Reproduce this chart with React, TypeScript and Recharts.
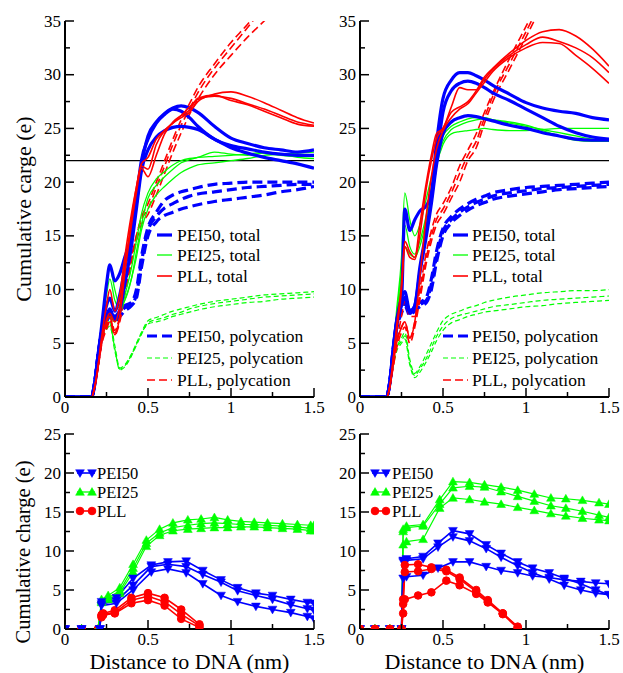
import React from "react";
import { LineChart, Line, XAxis, YAxis, ReferenceLine } from "recharts";

const BLUE = "#0000ff";
const GREEN = "#00ff00";
const RED = "#ff0000";
const FONT = "Liberation Serif, Times New Roman, Liberation Sans, Arial, sans-serif";

const xTicks = [0, 0.25, 0.5, 0.75, 1, 1.25, 1.5];
const yTicksTop = [0, 2.5, 5, 7.5, 10, 12.5, 15, 17.5, 20, 22.5, 25, 27.5, 30, 32.5, 35];
const yTicksBottom = [0, 2.5, 5, 7.5, 10, 12.5, 15, 17.5, 20, 22.5, 25];

// distance grid (nm) of the top panels
const xTop = [0, 0.16, 0.18, 0.2, 0.22, 0.25, 0.27, 0.3, 0.33, 0.36, 0.4, 0.43, 0.46, 0.5, 0.55, 0.6, 0.65, 0.7, 0.75, 0.8, 0.9, 1.0, 1.1, 1.2, 1.3, 1.4, 1.5];

// top left
const tlPei50Total = [
  [0, 0, 1.5, 4, 6.5, 10.5, 12.3, 10.8, 11.5, 13, 15, 18, 21.5, 24.3, 25.6, 26.4, 26.9, 27.1, 26.9, 26.5, 25.2, 24.1, 23.6, 23.2, 23.0, 22.8, 23.0],
  [0, 0, 1.5, 4, 6, 8.5, 9.2, 8, 9.5, 12, 15, 18.5, 22, 24, 25.5, 26.3, 26.8, 26.6, 26, 25.2, 24, 23.4, 23.1, 22.8, 22.6, 22.5, 22.5],
  [0, 0, 1.2, 3.5, 5.5, 7.5, 8.2, 7.2, 8, 10.5, 14, 17.5, 21, 23, 24.2, 24.8, 25.1, 25.2, 25.1, 24.9, 24, 23.2, 22.7, 22.3, 22, 21.7, 21.3],
];
const tlPei50Poly = [
  [0, 0, 1.5, 4, 6, 7.5, 8, 7.5, 8, 8.5, 8.8, 10, 13, 15.8, 17.2, 18.3, 18.8, 19.1, 19.3, 19.5, 19.8, 19.9, 20, 20, 20, 20, 20],
  [0, 0, 1.5, 4, 6, 7.3, 7.8, 7.2, 7.8, 8.3, 8.6, 9.5, 12.5, 15.5, 16.8, 17.6, 18, 18.4, 18.7, 18.9, 19.1, 19.3, 19.5, 19.6, 19.7, 19.8, 19.8],
  [0, 0, 1.3, 3.8, 5.8, 7, 7.5, 7, 7.5, 8, 8.5, 9.2, 12, 15, 16.3, 16.9, 17.2, 17.5, 17.7, 17.9, 18.2, 18.4, 18.6, 18.8, 19.1, 19.3, 19.6],
];
const tlPei25Total = [
  [0, 0, 1.5, 4, 6.5, 10.5, 12, 10, 8.5, 9, 11, 13.5, 16, 18.5, 19.7, 20.5, 21.2, 21.8, 22.1, 22.3, 22.8, 22.6, 22.5, 22.7, 22.5, 22.4, 22.5],
  [0, 0, 1.5, 4, 6.5, 9.5, 11, 9, 8.3, 9.5, 12, 14.5, 17, 19, 20.3, 21, 21.6, 22, 22.2, 22.3, 22.4, 22.5, 22.6, 22.8, 22.6, 22.3, 22.2],
  [0, 0, 1.2, 3.5, 5.5, 7, 7.5, 7, 7.8, 9, 11, 13, 15.5, 17.5, 18.8, 19.6, 20.3, 20.9, 21.3, 21.6, 21.8, 22, 22.2, 22.5, 22.6, 22.7, 22.8],
];
const tlPei25Poly = [
  [0, 0, 1.2, 3.5, 5.5, 6.8, 7, 4.8, 2.7, 3, 4, 5, 6, 7.1, 7.4, 7.7, 8, 8.2, 8.4, 8.6, 8.9, 9.1, 9.3, 9.5, 9.6, 9.7, 9.8],
  [0, 0, 1.2, 3.5, 5.5, 6.5, 6.8, 4.5, 2.5, 2.8, 3.8, 4.8, 5.8, 6.9, 7.2, 7.4, 7.7, 7.9, 8.2, 8.4, 8.7, 8.9, 9.1, 9.3, 9.4, 9.5, 9.6],
  [0, 0, 1, 3.2, 5.2, 6.3, 6.6, 4.3, 2.6, 2.9, 3.9, 4.9, 5.9, 6.8, 7, 7.2, 7.5, 7.7, 7.9, 8.1, 8.4, 8.6, 8.8, 8.9, 9.1, 9.2, 9.3],
];
const tlPllTotal = [
  [0, 0, 1, 3, 5.5, 8.5, 10, 8, 9.5, 13, 17, 19.5, 21.5, 21.2, 23.5, 24.8, 25.5, 26, 26.5, 27.5, 28.2, 28.4, 28, 27.4, 26.7, 26, 25.5],
  [0, 0, 1, 3, 5, 7, 7.5, 5.8, 7.5, 11.5, 16, 19, 21.3, 20.5, 22.5, 24.5, 25.6, 26.2, 26.7, 27.8, 28.1, 27.6, 27.2, 26.6, 26, 25.4, 25.2],
  [0, 0, 1, 2.8, 5, 7.2, 7.8, 7, 8.5, 12, 16.5, 19.5, 21.7, 22.3, 24, 24.8, 25.5, 26.2, 27, 27.7, 28, 27.8, 27.3, 26.8, 26.2, 25.6, 25.3],
];
const tlPllPoly = [
  [0, 0, 1, 3, 5, 6.8, 7.5, 6.2, 7.5, 10, 13, 15, 16.5, 17.5, 19.5, 21.5, 23.5, 25.3, 26.8, 28.3, 30.6, 32.5, 34.4, 36.3, 38, 39.5, 41],
  [0, 0, 1, 3, 5, 6.5, 7.2, 6, 7.3, 9.8, 12.8, 15, 16.7, 18, 20, 22, 24, 25.8, 27.3, 28.8, 31, 33, 34.7, 36.6, 38.3, 40, 41.5],
  [0, 0, 1, 2.8, 4.8, 6.3, 7, 5.8, 7, 9.5, 12.5, 14.5, 16, 17, 18.8, 20.8, 22.8, 24.6, 26.3, 27.7, 30, 31.8, 33.5, 35, 36.5, 38, 39.5],
];

// top right
const trPei50Total = [
  [0, 0, 1.5, 4.5, 7, 9, 17.5, 15.5, 16.5, 17.3, 17.8, 19, 23.5, 27.8, 29.5, 30.2, 30.2, 29.9, 29.5, 29, 28.2, 27.4, 26.9, 26.6, 26.4, 26, 25.8],
  [0, 0, 1.5, 4.5, 7, 9.2, 9.8, 8, 8.5, 12, 15.5, 18.5, 22, 26.5, 28.5, 29.2, 29.4, 29.2, 28.8, 28.3, 27.6, 26.8, 26, 25.2, 24.6, 24.2, 24],
  [0, 0, 1.3, 4, 6.5, 8.5, 9.3, 7.8, 8.5, 11.5, 15, 18, 21.5, 24.5, 25.6, 26, 26.2, 26.1, 25.9, 25.7, 25.3, 25, 24.6, 24.3, 24, 23.9, 23.9],
];
const trPei50Poly = [
  [0, 0, 1.5, 4.5, 6.8, 8.3, 9.2, 8, 8.5, 8.8, 9.3, 11, 13.5, 15.7, 16.8, 17.5, 18, 18.4, 18.7, 19, 19.3, 19.5, 19.6, 19.7, 19.8, 19.9, 20],
  [0, 0, 1.5, 4.3, 6.5, 8, 8.8, 7.8, 8.3, 8.6, 9, 10.5, 13, 15.4, 16.5, 17.2, 17.7, 18.1, 18.4, 18.7, 19, 19.2, 19.4, 19.5, 19.6, 19.7, 19.8],
  [0, 0, 1.3, 4, 6.3, 7.8, 8.5, 7.6, 8, 8.4, 8.8, 10, 12.5, 15, 16.2, 16.9, 17.4, 17.8, 18.1, 18.4, 18.7, 18.9, 19.1, 19.3, 19.4, 19.5, 19.6],
];
const trPei25Total = [
  [0, 0, 1.5, 4.5, 8, 13, 19, 16.5, 15, 16, 18.5, 20.5, 22.5, 24.3, 25.2, 25.6, 25.9, 26, 26, 25.8, 25.5, 25.2, 24.9, 24.6, 24.3, 24, 23.8],
  [0, 0, 1.5, 4.2, 7.5, 12, 16, 14, 13.3, 14.5, 17, 19.5, 21.8, 23.8, 24.9, 25.3, 25.6, 25.8, 25.9, 25.8, 25.6, 25.3, 24.8, 24.3, 23.9, 23.8, 23.8],
  [0, 0, 1.3, 4, 7, 11, 14, 13.3, 13, 14, 16.5, 19, 21.5, 23.5, 24.5, 24.7, 24.8, 24.9, 25, 24.9, 24.8, 24.8, 24.9, 25, 25, 25, 25],
];
const trPei25Poly = [
  [0, 0, 1, 3, 4.5, 5.5, 6, 3.5, 2.2, 2.8, 4, 5, 6, 7.1, 7.7, 8, 8.3, 8.5, 8.8, 9, 9.3, 9.5, 9.7, 9.8, 9.9, 9.9, 10],
  [0, 0, 1, 3, 4.5, 5.2, 5.7, 3.2, 2, 2.6, 3.6, 4.6, 5.6, 6.6, 7.3, 7.6, 7.8, 8, 8.2, 8.4, 8.6, 8.8, 9, 9.1, 9.2, 9.3, 9.4],
  [0, 0, 0.8, 2.8, 4.2, 5, 5.4, 3, 1.8, 2.3, 3.3, 4.2, 5.2, 6.2, 6.9, 7.2, 7.5, 7.7, 7.9, 8, 8.2, 8.4, 8.5, 8.7, 8.8, 8.9, 9],
];
const trPllTotal = [
  [0, 0, 1, 3.5, 6.5, 10.5, 14.5, 13.5, 13, 16, 20, 22.5, 24.5, 25, 27, 28.8, 28.6, 28.6, 29.6, 30.5, 31.8, 32.8, 33.5, 33.1, 32.5, 31.6, 30.2],
  [0, 0, 1, 3.5, 6, 10, 14, 13, 12.8, 15, 19.5, 22, 24, 25, 26.5, 27, 27.5, 28.5, 29.8, 30.6, 32, 33.2, 34, 34.2, 33.6, 32.4, 30.8],
  [0, 0, 1, 3, 5, 6.5, 7, 5.5, 7, 11, 17, 20.5, 23, 24.8, 26, 26.8, 27.3, 28.3, 29.3, 30.3, 31.6, 32.5, 33, 32.9, 31.8, 30.6, 29.2],
];
const trPllPoly = [
  [0, 0, 1, 3, 5, 7.5, 9, 7.5, 7.5, 10, 13.5, 15.5, 17, 18, 19.5, 21.5, 23, 24.5, 26.5, 28.3, 31.5, 34.5, 37.5, 40, 42, 44, 46],
  [0, 0, 1, 3, 5, 6.5, 7, 5.5, 7, 9.5, 13, 15, 16.5, 17.5, 19, 20.8, 22.5, 23.8, 26, 28, 31, 34, 37, 39.5, 41.5, 43.5, 45],
  [0, 0, 1, 2.8, 4.5, 6, 6.5, 5, 6.5, 9, 12.5, 14.5, 16, 17, 18.5, 20, 22, 23.2, 25.5, 27.5, 30.5, 33.5, 36.5, 39, 41, 43, 45],
];

// bottom left
const blPei50X = [0, 0.1, 0.21, 0.22, 0.31, 0.41, 0.52, 0.62, 0.73, 0.83, 0.94, 1.04, 1.15, 1.25, 1.36, 1.46, 1.5];
const blPei50 = [
  [0, 0, 0, 3.5, 4.0, 6.5, 8.2, 8.6, 8.7, 7.5, 6.3, 5.3, 4.6, 4.3, 3.8, 3.4, 3.3],
  [0, 0, 0, 3.2, 3.6, 5.6, 8.0, 8.3, 8.0, 7.0, 6.0, 4.9, 4.3, 3.8, 3.1, 2.6, 2.4],
  [0, 0, 0, 3.0, 3.3, 5.0, 7.3, 7.7, 7.2, 5.8, 4.3, 3.5, 2.9, 2.5, 2.1, 1.6, 1.3],
];
const blPei25X = [0, 0.1, 0.2, 0.22, 0.26, 0.33, 0.41, 0.49, 0.57, 0.65, 0.74, 0.82, 0.9, 0.98, 1.06, 1.14, 1.22, 1.31, 1.4, 1.48, 1.5];
const blPei25 = [
  [0, 0, 0, 3.8, 4.3, 5.3, 8.3, 11.4, 12.8, 13.6, 14.0, 14.1, 14.3, 14.0, 13.8, 13.7, 13.6, 13.5, 13.4, 13.3, 13.3],
  [0, 0, 0, 3.6, 4.0, 4.9, 7.8, 11.0, 12.3, 13.0, 13.3, 13.5, 13.6, 13.5, 13.4, 13.4, 13.3, 13.2, 13.1, 12.9, 12.9],
  [0, 0, 0, 3.4, 3.8, 4.6, 7.3, 10.6, 12.0, 12.6, 12.8, 12.9, 13.0, 13.0, 13.1, 13.1, 13.0, 12.9, 12.8, 12.6, 12.6],
];
const blPllX = [0, 0.1, 0.2, 0.22, 0.23, 0.3, 0.4, 0.5, 0.6, 0.7, 0.81];
const blPll = [
  [0, 0, 0, 1.8, 2.0, 2.4, 4.0, 4.6, 4.0, 2.5, 0.6],
  [0, 0, 0, 1.7, 1.9, 2.1, 3.7, 4.2, 3.5, 1.9, 0.4],
  [0, 0, 0, 1.5, 1.8, 2.0, 3.3, 3.7, 3.0, 1.3, 0.2],
];

// bottom right
const brPei50X = [0, 0.09, 0.18, 0.25, 0.26, 0.28, 0.38, 0.47, 0.56, 0.66, 0.76, 0.85, 0.95, 1.04, 1.14, 1.23, 1.33, 1.42, 1.5];
const brPei50 = [
  [0, 0, 0, 0, 8.8, 9.0, 9.3, 11.0, 12.6, 12.2, 10.8, 9.7, 8.6, 7.8, 7.2, 6.5, 5.8, 5.0, 4.4],
  [0, 0, 0, 0, 8.6, 8.8, 9.0, 10.5, 11.8, 11.3, 10.3, 9.2, 8.1, 7.2, 6.4, 5.6, 5.0, 4.6, 4.4],
  [0, 0, 0, 0, 6.5, 6.7, 6.9, 7.8, 8.6, 8.6, 8.0, 7.5, 7.2, 6.8, 6.6, 6.3, 6.1, 5.9, 5.8],
];
const brPei25X = [0, 0.09, 0.18, 0.25, 0.26, 0.28, 0.38, 0.48, 0.56, 0.66, 0.75, 0.85, 0.95, 1.05, 1.15, 1.24, 1.34, 1.44, 1.5];
const brPei25 = [
  [0, 0, 0, 0, 12.8, 13.2, 13.4, 16.6, 18.9, 18.8, 18.5, 18.2, 17.8, 17.3, 16.8, 16.7, 16.5, 16.2, 16.0],
  [0, 0, 0, 0, 12.5, 13.0, 13.2, 16.0, 18.1, 18.3, 18.2, 17.6, 17.0, 16.4, 15.8, 15.5, 15.1, 14.6, 14.3],
  [0, 0, 0, 0, 10.8, 11.2, 11.5, 15.5, 16.8, 16.6, 16.3, 16.0, 15.6, 15.2, 14.8, 14.5, 14.2, 14.0, 13.9],
];
const brPllX = [0, 0.09, 0.18, 0.25, 0.26, 0.27, 0.35, 0.43, 0.52, 0.6, 0.7, 0.77, 0.86, 0.95];
const brPll = [
  [0, 0, 0, 0, 3.8, 8.2, 8.3, 7.9, 7.6, 6.6, 5.0, 3.7, 2.0, 0.3],
  [0, 0, 0, 0, 3.2, 7.3, 7.4, 7.7, 7.4, 6.4, 4.8, 3.5, 2.0, 0.2],
  [0, 0, 0, 0, 2.0, 3.8, 4.3, 4.7, 6.2, 5.6, 4.5, 3.4, 1.9, 0.1],
];

const topLegend = ["PEI50, total", "PEI25, total", "PLL, total", "PEI50, polycation", "PEI25, polycation", "PLL, polycation"];
const bottomLegend = ["PEI50", "PEI25", "PLL"];

type Marker = "down" | "up" | "circle";
type Series = {
  name: string;
  xs: number[];
  reps: number[][];
  color: string;
  width: number;
  dash?: string;
  marker?: Marker;
};

const toPoints = (xs: number[], ys: number[]) => xs.map((x, i) => ({ x, y: ys[i] }));

function MarkerShape({ cx, cy, kind, color }: { cx: number; cy: number; kind: Marker; color: string }) {
  if (kind === "circle") return <circle cx={cx} cy={cy} r={3.8} fill={color} stroke={color} />;
  const s = 4.4;
  const pts =
    kind === "down"
      ? `${cx - s},${cy - s * 0.75} ${cx + s},${cy - s * 0.75} ${cx},${cy + s}`
      : `${cx - s},${cy + s * 0.75} ${cx + s},${cy + s * 0.75} ${cx},${cy - s}`;
  return <polygon points={pts} fill={color} stroke={color} strokeWidth={0.5} />;
}

function AxisTick(props: any) {
  const { x, y, value, side, step, labels } = props;
  const major = Math.abs(value / step - Math.round(value / step)) < 1e-6;
  const len = major ? 9 : 5;
  let l = [x, y, x, y];
  if (side === "left") l = [x, y, x + len, y];
  if (side === "right") l = [x, y, x - len, y];
  if (side === "bottom") l = [x, y, x, y - len];
  if (side === "top") l = [x, y, x, y + len];
  return (
    <g>
      <line x1={l[0]} y1={l[1]} x2={l[2]} y2={l[3]} stroke="#000" strokeWidth={1.5} />
      {labels && major && side === "left" && (
        <text x={x - 4} y={y} textAnchor="end" dominantBaseline="central" fontSize={17} fontFamily={FONT} fill="#000">
          {String(value)}
        </text>
      )}
      {labels && major && side === "bottom" && (
        <text x={x} y={y + 16} textAnchor="middle" fontSize={17} fontFamily={FONT} fill="#000">
          {String(value)}
        </text>
      )}
    </g>
  );
}

type PanelProps = {
  id: string;
  left: number;
  top: number;
  w: number;
  h: number;
  plot: { l: number; t: number; r: number; b: number };
  yMax: number;
  yTicks: number[];
  series: Series[];
  refLine?: number;
  curve: "monotone" | "linear";
  overlay: React.ReactNode;
};

function Panel({ id, left, top, w, h, plot, yMax, yTicks, series, refLine, curve, overlay }: PanelProps) {
  const frame = { stroke: "#000", strokeWidth: 2 };
  const common = { tickSize: 0, tickMargin: 0, tickLine: false, axisLine: frame, interval: 0 as const, allowDataOverflow: true };
  return (
    <div style={{ position: "absolute", left, top, width: w, height: h }}>
      <LineChart width={w} height={h} margin={{ top: plot.t, right: w - plot.r, bottom: 0, left: 0 }}>
        <XAxis xAxisId="b" type="number" dataKey="x" domain={[0, 1.5]} ticks={xTicks} height={h - plot.b} {...common}
          tick={(p: any) => <AxisTick x={p.x} y={p.y} value={p.payload.value} side="bottom" step={0.5} labels />} />
        <XAxis xAxisId="t" orientation="top" type="number" dataKey="x" domain={[0, 1.5]} ticks={xTicks} height={0} {...common}
          tick={(p: any) => <AxisTick x={p.x} y={p.y} value={p.payload.value} side="top" step={0.5} />} />
        <YAxis yAxisId="l" type="number" dataKey="y" domain={[0, yMax]} ticks={yTicks} width={plot.l} {...common}
          tick={(p: any) => <AxisTick x={p.x} y={p.y} value={p.payload.value} side="left" step={5} labels />} />
        <YAxis yAxisId="r" orientation="right" type="number" dataKey="y" domain={[0, yMax]} ticks={yTicks} width={0} {...common}
          tick={(p: any) => <AxisTick x={p.x} y={p.y} value={p.payload.value} side="right" step={5} />} />
        {refLine !== undefined && (
          <ReferenceLine xAxisId="b" yAxisId="l" y={refLine} stroke="#000" strokeWidth={1.2} />
        )}
        {series.flatMap((s) =>
          s.reps.map((ys, k) => (
            <Line
              key={`${id}-${s.name}-${k}`}
              xAxisId="b"
              yAxisId="l"
              data={toPoints(s.xs, ys)}
              dataKey="y"
              type={curve}
              stroke={s.color}
              strokeWidth={s.width}
              strokeDasharray={s.dash}
              dot={
                s.marker
                  ? (p: any) => <MarkerShape key={`m-${k}-${p.index}`} cx={p.cx} cy={p.cy} kind={s.marker as Marker} color={s.color} />
                  : false
              }
              activeDot={false}
              isAnimationActive={false}
            />
          ))
        )}
      </LineChart>
      <svg width={w} height={h} style={{ position: "absolute", left: 0, top: 0, pointerEvents: "none" }}>
        <defs>
          <clipPath id={`clip-${id}`}>
            <rect x={plot.l} y={plot.t} width={plot.r - plot.l} height={plot.b - plot.t} />
          </clipPath>
        </defs>
        <g clipPath={`url(#clip-${id})`}>{overlay}</g>
      </svg>
    </div>
  );
}

type LegendRow = { label: string; color: string; width: number; dash?: string; marker?: Marker };

function LegendRows({ rows, x1, x2, tx, ys, size }: { rows: LegendRow[]; x1: number[]; x2: number; tx: number; ys: number[]; size: number }) {
  return (
    <g>
      {rows.map((r, i) => (
        <g key={r.label}>
          <line x1={x1[i]} y1={ys[i]} x2={x2} y2={ys[i]} stroke={r.color} strokeWidth={r.width} strokeDasharray={r.dash} />
          {r.marker && <MarkerShape cx={x1[i] + 3} cy={ys[i]} kind={r.marker} color={r.color} />}
          {r.marker && <MarkerShape cx={x2 - 3} cy={ys[i]} kind={r.marker} color={r.color} />}
          <text x={tx} y={ys[i]} dominantBaseline="central" fontSize={size} fontFamily={FONT} fill="#000">
            {r.label}
          </text>
        </g>
      ))}
    </g>
  );
}

const styleTop = {
  pei50Total: { color: BLUE, width: 3.2 },
  pei25Total: { color: GREEN, width: 1.3 },
  pllTotal: { color: RED, width: 1.6 },
  pei50Poly: { color: BLUE, width: 3.2, dash: "10 5" },
  pei25Poly: { color: GREEN, width: 1.2, dash: "5 3" },
  pllPoly: { color: RED, width: 1.6, dash: "8 4" },
};

function topSeries(d: number[][][]): Series[] {
  const keys = ["pei50Poly", "pei25Poly", "pllPoly", "pei25Total", "pei50Total", "pllTotal"] as const;
  return keys.map((k, i) => ({ name: k, xs: xTop, reps: d[i], ...styleTop[k] }));
}

function topLegendRows(): LegendRow[] {
  const keys = ["pei50Total", "pei25Total", "pllTotal", "pei50Poly", "pei25Poly", "pllPoly"] as const;
  return keys.map((k, i) => ({ label: topLegend[i], ...styleTop[k] }));
}

function bottomLegendRows(): LegendRow[] {
  return [
    { label: bottomLegend[0], color: BLUE, width: 1.6, marker: "down" },
    { label: bottomLegend[1], color: GREEN, width: 1.3, marker: "up" },
    { label: bottomLegend[2], color: RED, width: 1.6, marker: "circle" },
  ];
}

export default function App() {
  const lt = topLegendRows();
  const lb = bottomLegendRows();
  const titleStyle = { fontFamily: FONT, fill: "#000" };
  return (
    <div style={{ position: "absolute", left: 0, top: 0, width: 623, height: 673, background: "#fff", fontFamily: FONT }}>
      <Panel
        id="tl" left={0} top={0} w={335} h={420}
        plot={{ l: 65, t: 21, r: 314, b: 397 }}
        yMax={35} yTicks={yTicksTop} refLine={22} curve="monotone"
        series={topSeries([tlPei50Poly, tlPei25Poly, tlPllPoly, tlPei25Total, tlPei50Total, tlPllTotal])}
        overlay={
          <>
            <LegendRows rows={lt.slice(0, 3)} x1={[157, 157, 157]} x2={172} tx={177} ys={[235, 255, 276]} size={17.5} />
            <LegendRows rows={lt.slice(3)} x1={[147, 147, 147]} x2={172} tx={177} ys={[336, 358, 380]} size={17.5} />
          </>
        }
      />
      <Panel
        id="tr" left={310} top={0} w={313} h={420}
        plot={{ l: 50, t: 21, r: 299, b: 397 }}
        yMax={35} yTicks={yTicksTop} refLine={22} curve="monotone"
        series={topSeries([trPei50Poly, trPei25Poly, trPllPoly, trPei25Total, trPei50Total, trPllTotal])}
        overlay={
          <>
            <LegendRows rows={lt.slice(0, 3)} x1={[143, 143, 143]} x2={158} tx={162} ys={[235, 255, 276]} size={17.5} />
            <LegendRows rows={lt.slice(3)} x1={[133, 133, 133]} x2={158} tx={162} ys={[336, 358, 380]} size={17.5} />
          </>
        }
      />
      <Panel
        id="bl" left={0} top={420} w={335} h={253}
        plot={{ l: 65, t: 14, r: 314, b: 209 }}
        yMax={25} yTicks={yTicksBottom} curve="linear"
        series={[
          { name: "pll", xs: blPllX, reps: blPll, color: RED, width: 1.6, marker: "circle" },
          { name: "pei25", xs: blPei25X, reps: blPei25, color: GREEN, width: 1.2, marker: "up" },
          { name: "pei50", xs: blPei50X, reps: blPei50, color: BLUE, width: 1.6, marker: "down" },
        ]}
        overlay={<LegendRows rows={lb} x1={[77, 77, 77]} x2={95} tx={97} ys={[53, 72, 91]} size={16.5} />}
      />
      <Panel
        id="br" left={310} top={420} w={313} h={253}
        plot={{ l: 50, t: 14, r: 299, b: 209 }}
        yMax={25} yTicks={yTicksBottom} curve="linear"
        series={[
          { name: "pei25", xs: brPei25X, reps: brPei25, color: GREEN, width: 1.2, marker: "up" },
          { name: "pei50", xs: brPei50X, reps: brPei50, color: BLUE, width: 1.6, marker: "down" },
          { name: "pll", xs: brPllX, reps: brPll, color: RED, width: 1.6, marker: "circle" },
        ]}
        overlay={<LegendRows rows={lb} x1={[62, 62, 62]} x2={79} tx={82} ys={[53, 72, 91]} size={16.5} />}
      />
      <svg width={623} height={673} style={{ position: "absolute", left: 0, top: 0, pointerEvents: "none" }}>
        <text x={23} y={209} transform="rotate(-90 23 209)" textAnchor="middle" dominantBaseline="central" fontSize={22} {...titleStyle}>
          Cumulative carge (e)
        </text>
        <text x={23} y={552} transform="rotate(-90 23 552)" textAnchor="middle" dominantBaseline="central" fontSize={20.5} {...titleStyle}>
          Cumulative charge (e)
        </text>
        <text x={189.5} y={669} textAnchor="middle" fontSize={22} {...titleStyle}>
          Distance to DNA (nm)
        </text>
        <text x={484.5} y={669} textAnchor="middle" fontSize={22} {...titleStyle}>
          Distance to DNA (nm)
        </text>
      </svg>
    </div>
  );
}
